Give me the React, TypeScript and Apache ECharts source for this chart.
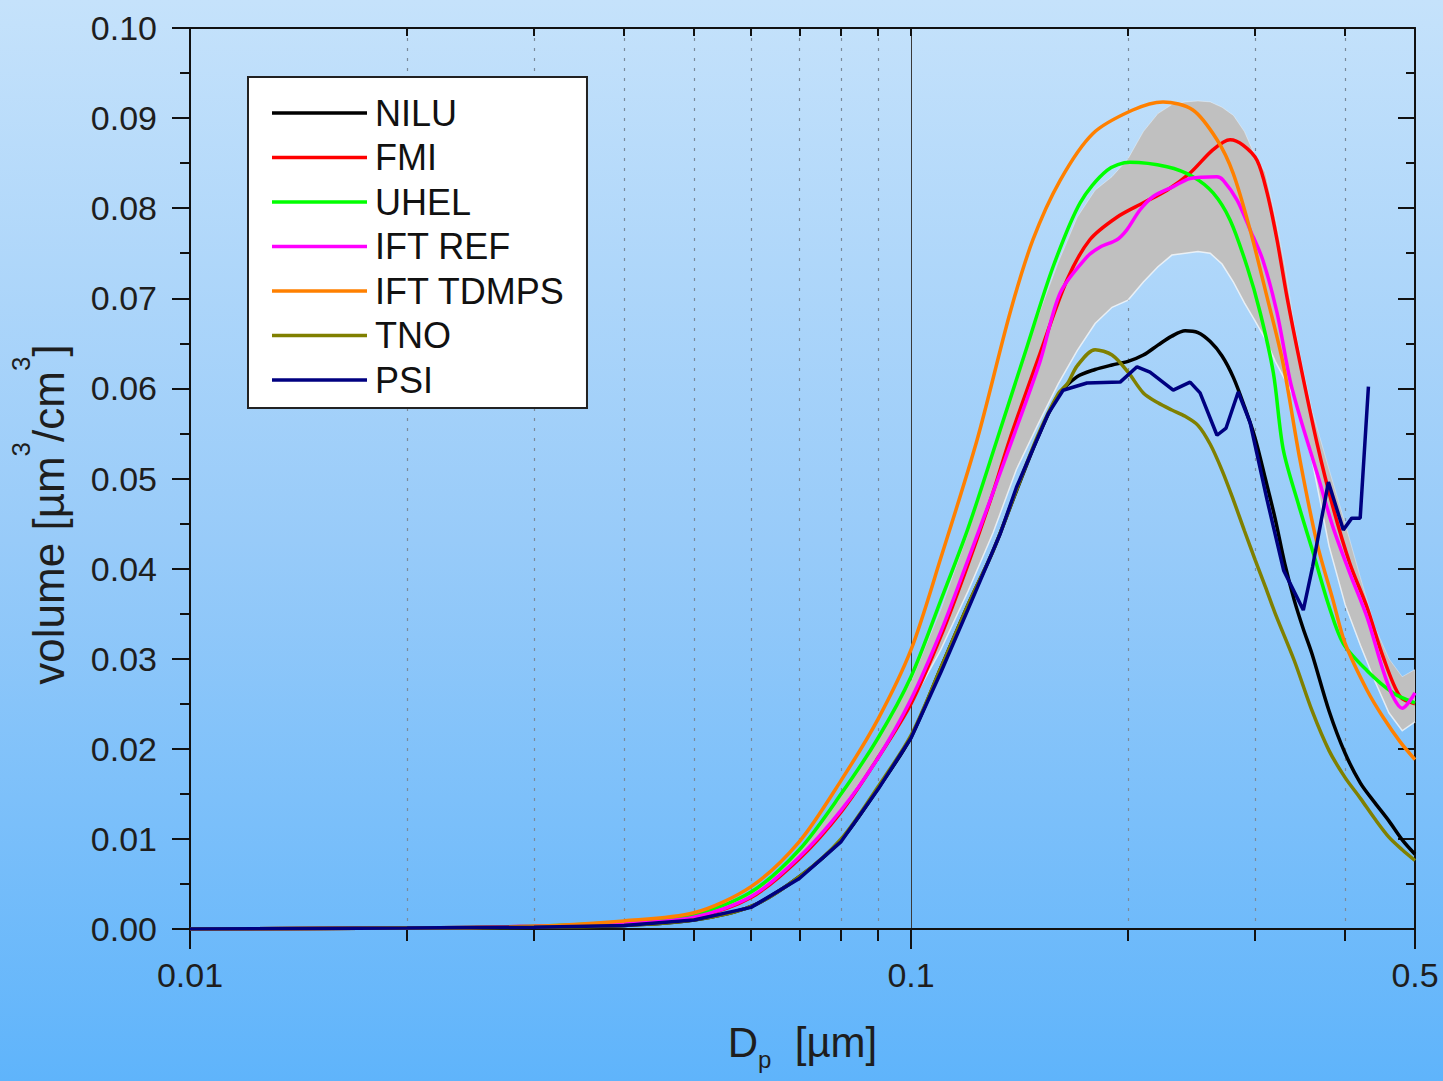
import React, { useEffect, useRef } from "react";
import * as echarts from "echarts";

const FONT = '"Liberation Sans", Arial, Helvetica, sans-serif';

// Axis tick / label values
const xLabelValues = [0.01, 0.1, 0.5];
const xMinorValues = [0.02, 0.03, 0.04, 0.05, 0.06, 0.07, 0.08, 0.09, 0.2, 0.3, 0.4];
const xTopTickValues = [0.02, 0.03, 0.04, 0.05, 0.06, 0.07, 0.08, 0.09, 0.1, 0.2, 0.3, 0.4];

// Series
const seriesNames = ["NILU", "FMI", "UHEL", "IFT REF", "IFT TDMPS", "TNO", "PSI"];
const seriesColors = ["#000000", "#ff0000", "#00ff00", "#ff00ff", "#ff8000", "#808000", "#000080"];

const niluX = [0.01, 0.02, 0.03, 0.04, 0.05, 0.06, 0.07, 0.08, 0.09, 0.1, 0.11, 0.12, 0.13, 0.14, 0.15, 0.16, 0.17, 0.18, 0.19, 0.2, 0.21, 0.22, 0.23, 0.24, 0.25, 0.26, 0.27, 0.28, 0.29, 0.3, 0.31, 0.32, 0.33, 0.34, 0.35, 0.36, 0.38, 0.4, 0.42, 0.44, 0.46, 0.48, 0.5];
const niluY = [0, 0.0001, 0.0002, 0.0004, 0.001, 0.0025, 0.0058, 0.0099, 0.0156, 0.0213, 0.029, 0.036, 0.042, 0.0486, 0.0546, 0.0592, 0.0613, 0.0621, 0.0626, 0.063, 0.0637, 0.0648, 0.0658, 0.0664, 0.0662, 0.0652, 0.0636, 0.0612, 0.058, 0.0545, 0.05, 0.0455, 0.0405, 0.0365, 0.0333, 0.0305, 0.0242, 0.0195, 0.0162, 0.014, 0.012, 0.0099, 0.0083];

const fmiX = [0.01, 0.02, 0.03, 0.04, 0.05, 0.06, 0.07, 0.08, 0.09, 0.1, 0.11, 0.12, 0.13, 0.137, 0.151, 0.1645, 0.177, 0.193, 0.21, 0.2265, 0.2438, 0.2624, 0.277, 0.2887, 0.302, 0.3118, 0.3218, 0.3323, 0.3464, 0.3657, 0.3848, 0.406, 0.429, 0.4516, 0.4766, 0.5];
const fmiY = [0, 0.0001, 0.0003, 0.0006, 0.0013, 0.0035, 0.0078, 0.013, 0.019, 0.025, 0.0325, 0.0405, 0.0485, 0.0543, 0.0639, 0.072, 0.0765, 0.079, 0.0806, 0.082, 0.0839, 0.0865, 0.0876, 0.087, 0.0853, 0.0817, 0.0765, 0.0701, 0.0628, 0.0539, 0.0468, 0.0406, 0.0357, 0.0302, 0.0258, 0.025];

const uhelX = [0.01, 0.02, 0.03, 0.04, 0.05, 0.06, 0.07, 0.08, 0.09, 0.1, 0.11, 0.12, 0.1316, 0.1448, 0.1574, 0.1716, 0.187, 0.2012, 0.2265, 0.246, 0.2624, 0.277, 0.2925, 0.305, 0.3181, 0.3283, 0.345, 0.362, 0.38, 0.3975, 0.4287, 0.4664, 0.5];
const uhelY = [0, 0.0001, 0.0003, 0.0008, 0.0016, 0.0041, 0.0088, 0.015, 0.0212, 0.028, 0.0365, 0.0445, 0.0543, 0.0646, 0.0735, 0.0806, 0.0842, 0.0851, 0.0846, 0.0835, 0.0817, 0.0787, 0.0735, 0.0684, 0.0617, 0.0532, 0.047, 0.0415, 0.0358, 0.0317, 0.0287, 0.0262, 0.0251];

const iftRefX = [0.01, 0.02, 0.03, 0.04, 0.05, 0.06, 0.07, 0.08, 0.09, 0.1, 0.11, 0.12, 0.13, 0.137, 0.151, 0.161, 0.1754, 0.183, 0.193, 0.1992, 0.2077, 0.2167, 0.2311, 0.2438, 0.2656, 0.2711, 0.2833, 0.2953, 0.3077, 0.3218, 0.3355, 0.3464, 0.3657, 0.3848, 0.406, 0.429, 0.4516, 0.466, 0.48, 0.5];
const iftRefY = [0, 0.0001, 0.0003, 0.0006, 0.0013, 0.0036, 0.008, 0.0132, 0.019, 0.0255, 0.033, 0.041, 0.0485, 0.0535, 0.063, 0.0706, 0.0746, 0.0757, 0.0765, 0.0776, 0.0798, 0.0813, 0.0824, 0.0833, 0.0835, 0.0831, 0.0809, 0.0776, 0.0742, 0.0684, 0.0609, 0.0568, 0.0506, 0.0446, 0.0395, 0.0346, 0.0287, 0.0258, 0.0245, 0.0262];

const tdmpsX = [0.01, 0.02, 0.03, 0.04, 0.05, 0.06, 0.07, 0.08, 0.09, 0.1, 0.11, 0.1235, 0.1372, 0.1476, 0.161, 0.1788, 0.203, 0.2236, 0.246, 0.2657, 0.2797, 0.2953, 0.3118, 0.328, 0.3464, 0.3657, 0.3848, 0.4, 0.429, 0.4516, 0.4766, 0.5];
const tdmpsY = [0, 0.0001, 0.0003, 0.0009, 0.0018, 0.0047, 0.0097, 0.0165, 0.0233, 0.031, 0.0412, 0.0543, 0.0684, 0.0765, 0.0831, 0.0883, 0.0909, 0.0918, 0.0909, 0.0876, 0.0839, 0.0776, 0.0701, 0.0628, 0.052, 0.0428, 0.0365, 0.0317, 0.0265, 0.0235, 0.0208, 0.0188];

const tnoX = [0.01, 0.02, 0.03, 0.04, 0.05, 0.06, 0.07, 0.08, 0.09, 0.1, 0.11, 0.12, 0.13, 0.14, 0.15, 0.16, 0.165, 0.17, 0.18, 0.19, 0.2, 0.21, 0.22, 0.23, 0.24, 0.25, 0.26, 0.27, 0.28, 0.29, 0.3, 0.31, 0.32, 0.34, 0.36, 0.38, 0.4, 0.42, 0.44, 0.46, 0.48, 0.5];
const tnoY = [0, 0.0001, 0.0002, 0.0004, 0.001, 0.0025, 0.0058, 0.01, 0.0158, 0.0215, 0.029, 0.036, 0.042, 0.0487, 0.0548, 0.0594, 0.0606, 0.0625, 0.0643, 0.0637, 0.0618, 0.0595, 0.0584, 0.0576, 0.0569, 0.0559, 0.0538, 0.0509, 0.0476, 0.0442, 0.041, 0.038, 0.035, 0.0298, 0.0242, 0.0198, 0.0168, 0.0145, 0.0122, 0.0102, 0.0088, 0.0076];

const psiX = [0.01, 0.02, 0.03, 0.04, 0.05, 0.06, 0.07, 0.08, 0.09, 0.1, 0.11, 0.12, 0.133, 0.14, 0.148, 0.155, 0.1625, 0.1754, 0.195, 0.2058, 0.2145, 0.231, 0.2438, 0.2517, 0.2657, 0.2735, 0.2843, 0.2953, 0.3118, 0.3287, 0.35, 0.3605, 0.3792, 0.3977, 0.4086, 0.4197, 0.4309];
const psiY = [0, 0.0001, 0.0002, 0.0004, 0.001, 0.0024, 0.0056, 0.0097, 0.0155, 0.0212, 0.0285, 0.0355, 0.0439, 0.049, 0.0535, 0.0572, 0.0598, 0.0606, 0.0607, 0.0624, 0.0618, 0.0598, 0.0607, 0.0595, 0.0548, 0.0556, 0.0596, 0.0562, 0.0476, 0.0398, 0.0354, 0.0402, 0.0496, 0.0443, 0.0456, 0.0456, 0.0602];

const seriesX = [niluX, fmiX, uhelX, iftRefX, tdmpsX, tnoX, psiX];
const seriesY = [niluY, fmiY, uhelY, iftRefY, tdmpsY, tnoY, psiY];

// Grey uncertainty band
const bandX = [0.05, 0.06, 0.07, 0.08, 0.09, 0.1, 0.11, 0.12, 0.13, 0.14, 0.15, 0.16, 0.17, 0.18, 0.19, 0.2, 0.21, 0.22, 0.23, 0.24, 0.25, 0.26, 0.27, 0.28, 0.29, 0.3, 0.31, 0.32, 0.33, 0.34, 0.35, 0.36, 0.38, 0.4, 0.42, 0.44, 0.46, 0.48, 0.5];
const bandLow = [0.0012, 0.0034, 0.0078, 0.0133, 0.019, 0.025, 0.031, 0.0375, 0.044, 0.051, 0.056, 0.0605, 0.0642, 0.0672, 0.069, 0.0698, 0.0718, 0.0735, 0.0748, 0.075, 0.0752, 0.075, 0.0738, 0.0718, 0.0695, 0.0675, 0.0655, 0.063, 0.061, 0.059, 0.0555, 0.052, 0.0425, 0.036, 0.0315, 0.0275, 0.024, 0.022, 0.023];
const bandHigh = [0.0016, 0.004, 0.0086, 0.015, 0.021, 0.0275, 0.0355, 0.044, 0.053, 0.061, 0.068, 0.074, 0.079, 0.082, 0.0835, 0.0855, 0.0885, 0.0905, 0.0915, 0.0918, 0.0919, 0.0918, 0.0912, 0.0903, 0.0885, 0.0858, 0.084, 0.079, 0.0735, 0.067, 0.062, 0.0575, 0.051, 0.045, 0.039, 0.0335, 0.03, 0.028, 0.0288];

function pairs(xs: number[], ys: number[]) {
  return xs.map((x, i) => [x, ys[i]]);
}

export default function App() {
  const ref = useRef<HTMLDivElement>(null);

  useEffect(() => {
    document.body.style.margin = "0";
    const chart = echarts.init(ref.current as HTMLDivElement, null, { renderer: "svg" });

    const textColor = "#1e1e1e";
    const axisColor = "#111111";

    const lineSeries = seriesNames.map((name, i) => ({
      name,
      type: "line",
      xAxisIndex: 0,
      yAxisIndex: 0,
      data: pairs(seriesX[i], seriesY[i]),
      symbol: "none",
      smooth: name === "PSI" ? false : 0.3,
      lineStyle: { color: seriesColors[i], width: 3.5 },
      itemStyle: { color: seriesColors[i] },
      emphasis: { disabled: true },
      z: 3,
    }));

    const bandSeries = {
      type: "custom",
      xAxisIndex: 0,
      yAxisIndex: 0,
      silent: true,
      z: 1,
      data: bandX.map((x, i) => [x, bandLow[i], bandHigh[i]]),
      encode: { x: 0, y: [1, 2] },
      renderItem: (params: any, api: any) => {
        if (params.dataIndex !== 0) return null;
        const upper: number[][] = [];
        const lower: number[][] = [];
        for (let i = 0; i < bandX.length; i++) {
          upper.push(api.coord([bandX[i], bandHigh[i]]));
          lower.push(api.coord([bandX[i], bandLow[i]]));
        }
        const poly = upper.concat(lower.slice().reverse());
        return {
          type: "group",
          children: [
            {
              type: "polygon",
              shape: { points: poly },
              style: { fill: "#c0c0c0", stroke: "none" },
            },
            {
              type: "polyline",
              shape: { points: lower },
              style: { fill: "none", stroke: "rgba(255,255,255,0.7)", lineWidth: 1.5 },
            },
            {
              type: "polyline",
              shape: { points: upper },
              style: { fill: "none", stroke: "rgba(255,255,255,0.35)", lineWidth: 1 },
            },
          ],
        };
      },
    };

    const option: any = {
      animation: false,
      backgroundColor: "transparent",
      grid: { left: 190, right: 28, top: 28, bottom: 152, containLabel: false },
      legend: {
        data: seriesNames,
        orient: "vertical",
        left: 248,
        top: 77,
        backgroundColor: "#ffffff",
        borderColor: "#222222",
        borderWidth: 2,
        borderRadius: 0,
        padding: [18, 22, 10, 24],
        itemGap: 8.5,
        itemWidth: 95,
        itemHeight: 3.5,
        icon: "rect",
        selectedMode: false,
        textStyle: { fontSize: 36, color: "#111111", fontFamily: FONT, padding: [0, 0, 0, 3] },
      },
      xAxis: [
        {
          type: "log",
          logBase: 10,
          min: 0.01,
          max: 0.5,
          position: "bottom",
          axisLine: { show: true, onZero: false, lineStyle: { color: axisColor, width: 2 } },
          axisTick: { show: true, customValues: xLabelValues, length: 20, lineStyle: { color: axisColor, width: 2 } },
          minorTick: { show: false },
          axisLabel: {
            show: true,
            customValues: xLabelValues,
            margin: 29,
            fontSize: 34,
            color: textColor,
            fontFamily: FONT,
            formatter: (v: number) => String(parseFloat(Number(v).toPrecision(2))),
          },
          splitLine: { show: true, lineStyle: { color: "#3a3a3a", width: 1 } },
          name: "{m|D}{sub|p}{m|  [µm]}",
          nameLocation: "middle",
          nameGap: 92,
          nameTextStyle: {
            lineHeight: 50,
            rich: {
              m: { fontSize: 42, fontFamily: FONT, color: textColor, verticalAlign: "top" },
              sub: { fontSize: 24, fontFamily: FONT, color: textColor, verticalAlign: "bottom" },
            },
          },
        },
        {
          type: "log",
          logBase: 10,
          min: 0.01,
          max: 0.5,
          position: "bottom",
          axisLine: { show: false, onZero: false },
          axisTick: { show: true, customValues: xMinorValues, length: 12, lineStyle: { color: axisColor, width: 2 } },
          axisLabel: { show: false },
          splitLine: { show: true, lineStyle: { color: "#7b8a9a", width: 1.2, type: [3, 7] } },
        },
        {
          type: "log",
          logBase: 10,
          min: 0.01,
          max: 0.5,
          position: "top",
          axisLine: { show: true, onZero: false, lineStyle: { color: axisColor, width: 2 } },
          axisTick: { show: true, inside: true, customValues: xTopTickValues, length: 8, lineStyle: { color: axisColor, width: 2 } },
          axisLabel: { show: false },
          splitLine: { show: false },
        },
      ],
      yAxis: [
        {
          type: "value",
          min: 0,
          max: 0.1,
          interval: 0.01,
          position: "left",
          axisLine: { show: true, onZero: false, lineStyle: { color: axisColor, width: 2 } },
          axisTick: { show: true, length: 18, lineStyle: { color: axisColor, width: 2 } },
          minorTick: { show: true, splitNumber: 2, length: 10, lineStyle: { color: axisColor, width: 2 } },
          axisLabel: {
            margin: 33,
            fontSize: 34,
            color: textColor,
            fontFamily: FONT,
            formatter: (v: number) => v.toFixed(2),
          },
          splitLine: { show: false },
          name: "{m|volume [µm}{sup|3}{m|/cm}{sup|3}{m|]}",
          nameLocation: "middle",
          nameRotate: 90,
          nameGap: 120,
          nameTextStyle: {
            lineHeight: 62,
            padding: [0, 72, 0, 0],
            rich: {
              m: { fontSize: 44, fontFamily: FONT, color: textColor, verticalAlign: "bottom" },
              sup: { fontSize: 26, fontFamily: FONT, color: textColor, verticalAlign: "top" },
            },
          },
        },
        {
          type: "value",
          min: 0,
          max: 0.1,
          interval: 0.01,
          position: "right",
          axisLine: { show: true, onZero: false, lineStyle: { color: axisColor, width: 2 } },
          axisTick: { show: true, inside: true, length: 17, lineStyle: { color: axisColor, width: 2 } },
          minorTick: { show: true, splitNumber: 2, length: 9, lineStyle: { color: axisColor, width: 2 } },
          axisLabel: { show: false },
          splitLine: { show: false },
        },
      ],
      series: [bandSeries, ...lineSeries],
    };

    chart.setOption(option);
    return () => {
      chart.dispose();
    };
  }, []);

  return (
    <div
      ref={ref}
      style={{
        width: 1443,
        height: 1081,
        background: "linear-gradient(180deg, #c5e2fb 0%, #98cbf9 50%, #5fb4fb 100%)",
      }}
    />
  );
}
